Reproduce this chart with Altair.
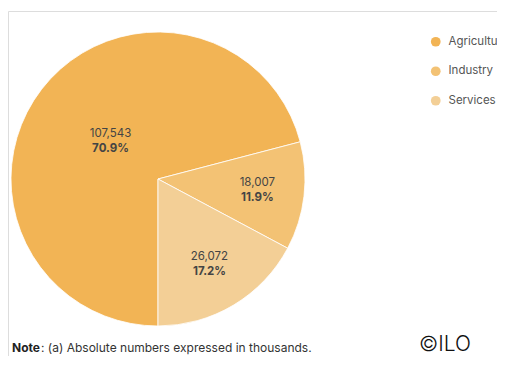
import math
import altair as alt
import pandas as pd

sectors = ["Agriculture", "Industry", "Services"]
values = [107543, 18007, 26072]
colors = ["#F2B455", "#F3C274", "#F3CF96"]
order = [1, 2, 3]

df = pd.DataFrame({"sector": sectors, "value": values, "order": order})
TOTAL = sum(values)

FONT = "Inter"
CX, CY = 150, 168

theta_scale = alt.Scale(domain=[0, TOTAL], range=[math.pi, 3 * math.pi], nice=False, zero=True)

base = alt.Chart(df).transform_window(
    end="sum(value)", sort=[alt.SortField("order")], frame=[None, 0]
).transform_joinaggregate(
    total="sum(value)"
).transform_calculate(
    start="datum.end - datum.value",
    mid="datum.end - datum.value / 2",
    pct="datum.value / datum.total",
    lr="datum.sector == 'Agriculture' ? 60 : 100",
)

arcs = base.mark_arc(outerRadius=147, stroke="white", strokeWidth=0.8).encode(
    x=alt.value(CX), y=alt.value(CY),
    theta=alt.Theta("start:Q", scale=theta_scale),
    theta2=alt.Theta2("end:Q"),
    color=alt.Color("sector:N", sort=sectors,
                    scale=alt.Scale(domain=sectors, range=colors),
                    legend=alt.Legend(title=None, orient="none", legendX=422, legendY=25,
                                      symbolType="circle", symbolSize=95,
                                      symbolStrokeWidth=0, labelFont=FONT,
                                      labelFontSize=11.5, labelColor="#555555",
                                      labelOffset=7, rowPadding=16.5, labelLimit=400)),
)

num = base.mark_text(font=FONT, fontSize=11.5, color="#444444", dy=-8).encode(
    x=alt.value(CX), y=alt.value(CY),
    theta=alt.Theta("mid:Q", scale=theta_scale),
    radius=alt.Radius("lr:Q", scale=None),
    text=alt.Text("value:Q", format=","),
)
pct = base.mark_text(font=FONT, fontSize=11.5, fontWeight="bold", color="#444444", dy=7).encode(
    x=alt.value(CX), y=alt.value(CY),
    theta=alt.Theta("mid:Q", scale=theta_scale),
    radius=alt.Radius("lr:Q", scale=None),
    text=alt.Text("pct:Q", format=".1%"),
)

note_df = pd.DataFrame({"t": ["x"]})
note_b = alt.Chart(note_df).mark_text(font=FONT, fontSize=12, fontWeight="bold",
                                      color="#222222", align="left", baseline="alphabetic").encode(
    x=alt.value(4), y=alt.value(341), text=alt.value("Note")
)
note_r = alt.Chart(note_df).mark_text(font=FONT, fontSize=12, color="#333333",
                                      align="left", baseline="alphabetic").encode(
    x=alt.value(33), y=alt.value(341),
    text=alt.value(": (a) Absolute numbers expressed in thousands.")
)
ilo = alt.Chart(note_df).mark_text(font=FONT, fontSize=21, fontWeight=300, color="#111111",
                                   align="left", baseline="alphabetic").encode(
    x=alt.value(411), y=alt.value(340), text=alt.value("©ILO")
)

chart = alt.layer(arcs, num, pct, note_b, note_r, ilo).properties(
    width=489, height=345,
    padding={"left": 0, "top": 3, "right": 0, "bottom": 0},
    autosize=alt.AutoSizeParams(type="none"),
).configure_view(fill="#F4F4F4", stroke=None).configure(background="white")

chart.save("out.html", embed_options={"renderer": "svg", "actions": False})
